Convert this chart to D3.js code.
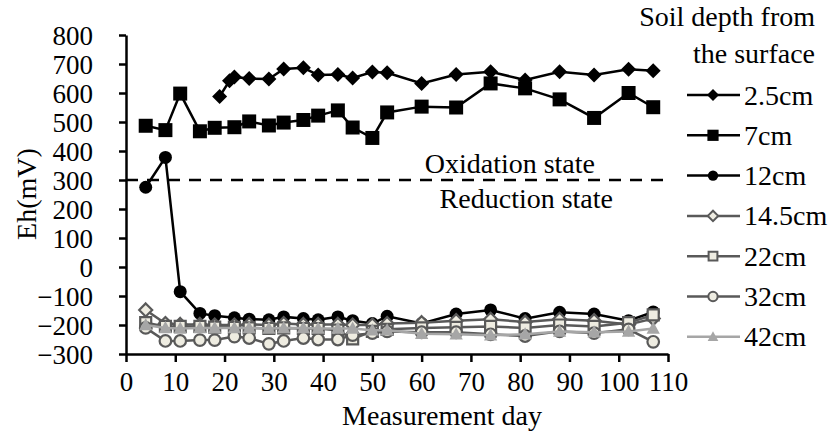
<!DOCTYPE html>
<html>
<head>
<meta charset="utf-8">
<script src="https://cdn.jsdelivr.net/npm/d3@7"></script>
<style>
  body { margin: 0; background: #fff; }
  svg { display: block; }
  text { font-family: "Liberation Serif", "Times New Roman", serif; fill: #000; }
</style>
</head>
<body>
<script>
// Datos
var days = [4, 8, 11, 15, 18, 22, 25, 29, 32, 36, 39, 43, 46, 50, 53, 60, 67, 74, 81, 88, 95, 102, 107];
var days25 = [19, 21, 22, 25, 29, 32, 36, 39, 43, 46, 50, 53, 60, 67, 74, 81, 88, 95, 102, 107];
var eh25 = [588, 642, 655, 650, 648, 683, 687, 662, 664, 652, 672, 670, 633, 664, 673, 645, 673, 662, 682, 677];
var eh7 = [487, 472, 598, 468, 480, 482, 502, 488, 498, 507, 522, 540, 481, 445, 533, 553, 550, 633, 616, 578, 514, 600, 551];
var eh12 = [275, 378, -85, -160, -168, -175, -180, -182, -172, -178, -182, -172, -185, -195, -170, -195, -162, -148, -178, -156, -162, -185, -155];
var eh145 = [-148, -195, -198, -198, -200, -200, -198, -200, -195, -198, -198, -198, -200, -200, -195, -192, -185, -180, -190, -180, -185, -198, -178];
var eh22 = [-192, -205, -205, -205, -207, -208, -210, -212, -210, -212, -212, -218, -248, -222, -215, -210, -208, -205, -210, -200, -205, -192, -165];
var eh32 = [-210, -255, -255, -252, -252, -240, -245, -265, -255, -245, -250, -250, -235, -228, -222, -225, -225, -232, -238, -222, -228, -215, -258];
var eh42 = [-200, -210, -212, -210, -210, -210, -210, -212, -210, -210, -212, -212, -212, -218, -218, -230, -232, -235, -232, -222, -225, -222, -212];
var labels = ["2.5cm", "7cm", "12cm", "14.5cm", "22cm", "32cm", "42cm"];
var xTicks = d3.range(0, 111, 10);
var yTicks = d3.range(-300, 801, 100);

var width = 835, height = 437;
var svg = d3.select("body").append("svg")
    .attr("width", width)
    .attr("height", height);

// Escalas
var x = d3.scaleLinear().domain([0, 110]).range([126, 668]);
var y = d3.scaleLinear().domain([-300, 800]).range([354, 35]);

var light = "#EEECE1";
var dark = "#595959";
var grey = "#A6A6A6";

var series = [
    {days: days25, vals: eh25, shape: "diamond", size: 7.5, line: "#000", fill: "#000", stroke: "none"},
    {days: days, vals: eh7, shape: "square", size: 7, line: "#000", fill: "#000", stroke: "none"},
    {days: days, vals: eh12, shape: "circle", size: 6.5, line: "#000", fill: "#000", stroke: "none"},
    {days: days, vals: eh145, shape: "diamond", size: 6.5, line: dark, fill: light, stroke: dark},
    {days: days, vals: eh22, shape: "square", size: 5.5, line: dark, fill: light, stroke: dark},
    {days: days, vals: eh32, shape: "circle", size: 5.8, line: dark, fill: light, stroke: dark},
    {days: days, vals: eh42, shape: "triangle", size: 7, line: grey, fill: grey, stroke: "none"}
];
series.forEach(function(s, i) { s.label = labels[i]; });

function shapePath(shape, r) {
    if (shape === "diamond") return `M0,${-r}L${r},0L0,${r}L${-r},0Z`;
    if (shape === "square") return `M${-r},${-r}H${r}V${r}H${-r}Z`;
    if (shape === "triangle") return `M0,${-r}L${r * 0.95},${r * 0.75}L${-r * 0.95},${r * 0.75}Z`;
    return `M${-r},0A${r},${r} 0 1,0 ${r},0A${r},${r} 0 1,0 ${-r},0Z`;
}

// Línea discontinua de 300 mV
svg.append("line")
    .attr("x1", x(0)).attr("x2", x(110))
    .attr("y1", y(300)).attr("y2", y(300))
    .attr("stroke", "#000")
    .attr("stroke-width", 2.5)
    .attr("stroke-dasharray", "12,9");

svg.append("text")
    .attr("x", 595).attr("y", 173)
    .attr("text-anchor", "end")
    .style("font-size", "28px")
    .text("Oxidation state");
svg.append("text")
    .attr("x", 613).attr("y", 208)
    .attr("text-anchor", "end")
    .style("font-size", "28px")
    .text("Reduction state");

// Ejes
var xAxis = svg.append("g")
    .attr("transform", `translate(0, ${y(-300)})`)
    .call(d3.axisBottom(x).tickValues(xTicks).tickSize(8).tickSizeOuter(0).tickPadding(7));
var yAxis = svg.append("g")
    .attr("transform", `translate(${x(0)}, 0)`)
    .call(d3.axisLeft(y).tickValues(yTicks).tickSize(7).tickSizeOuter(0).tickPadding(26));

[xAxis, yAxis].forEach(function(ax) {
    ax.attr("font-family", null).attr("font-size", null);
    ax.select(".domain").attr("stroke", "#000").attr("stroke-width", 2.5);
    ax.selectAll(".tick line").attr("stroke", "#000").attr("stroke-width", 2.5);
    ax.selectAll(".tick text")
        .style("font-family", "'Liberation Serif', serif")
        .style("font-size", "27px")
        .attr("fill", "#000");
});
xAxis.selectAll(".tick text").attr("dy", "0.82em");
yAxis.selectAll(".tick text").attr("dy", "0.34em");

// Títulos de los ejes
svg.append("text")
    .attr("x", 442).attr("y", 425)
    .attr("text-anchor", "middle")
    .style("font-size", "28px")
    .text("Measurement day");
svg.append("text")
    .attr("transform", "rotate(-90)")
    .attr("x", -194)
    .attr("y", 36)
    .attr("text-anchor", "middle")
    .style("font-size", "28px")
    .text("Eh(mV)");

// Series
var lineGen = d3.line().x(d => x(d[0])).y(d => y(d[1]));
series.forEach(function(s) {
    var pts = s.days.map((d, i) => [d, s.vals[i]]);
    var g = svg.append("g");
    g.append("path")
        .attr("d", lineGen(pts))
        .attr("fill", "none")
        .attr("stroke", s.line)
        .attr("stroke-width", 2.5);
    g.selectAll("path.mk")
        .data(pts)
        .enter()
        .append("path")
        .attr("class", "mk")
        .attr("transform", d => `translate(${x(d[0])}, ${y(d[1])})`)
        .attr("d", shapePath(s.shape, s.size))
        .attr("fill", s.fill)
        .attr("stroke", s.stroke)
        .attr("stroke-width", 2.2);
});

// Leyenda
svg.append("text")
    .attr("x", 815).attr("y", 26)
    .attr("text-anchor", "end")
    .style("font-size", "28px")
    .text("Soil depth from");
svg.append("text")
    .attr("x", 815).attr("y", 63)
    .attr("text-anchor", "end")
    .style("font-size", "28px")
    .text("the surface");

var legend = svg.append("g");
series.forEach(function(s, i) {
    var row = legend.append("g")
        .attr("transform", `translate(0, ${95 + i * 40.3})`);
    row.append("line")
        .attr("x1", 687).attr("x2", 740)
        .attr("stroke", s.line)
        .attr("stroke-width", 2.5);
    row.append("path")
        .attr("transform", "translate(713, 0)")
        .attr("d", shapePath(s.shape, s.size * 0.8))
        .attr("fill", s.fill)
        .attr("stroke", s.stroke)
        .attr("stroke-width", 2);
    row.append("text")
        .attr("x", 744)
        .attr("dy", "0.34em")
        .style("font-size", "28px")
        .text(s.label);
});
</script>
</body>
</html>
